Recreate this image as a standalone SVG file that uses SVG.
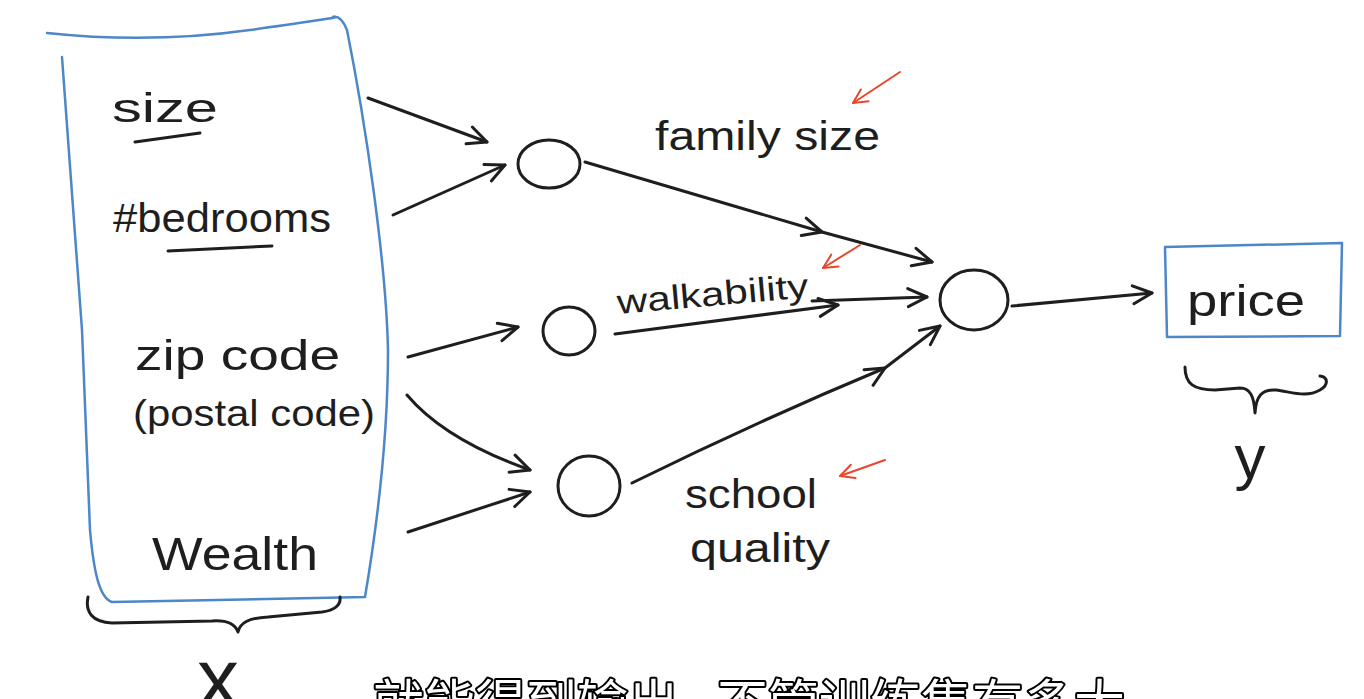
<svg xmlns="http://www.w3.org/2000/svg" width="1364" height="699" viewBox="0 0 1364 699">
<style>
.ink{fill:none;stroke:#1e1e1e;stroke-width:3;stroke-linecap:round;stroke-linejoin:round}
.blue{fill:none;stroke:#4d87c7;stroke-width:2.5;stroke-linecap:round;stroke-linejoin:round}
.red{fill:none;stroke:#e8452e;stroke-width:2;stroke-linecap:round}
.hw{font-family:"Liberation Sans","DejaVu Sans",sans-serif;fill:#1e1e1e}
.sub{font-family:"Noto Sans CJK SC",sans-serif;font-size:51px;fill:#fff;stroke:#000;stroke-width:4;paint-order:stroke;stroke-linejoin:round}
</style>
<defs>
<marker id="ah" markerUnits="userSpaceOnUse" markerWidth="26" markerHeight="26" viewBox="0 0 26 26" refX="23" refY="13" orient="auto">
<path d="M4,4 L23,13 L4,22" fill="none" stroke="#1e1e1e" stroke-width="3" stroke-linecap="round" stroke-linejoin="round"/>
</marker>
<marker id="ahr" markerUnits="userSpaceOnUse" markerWidth="20" markerHeight="20" viewBox="0 0 20 20" refX="18" refY="10" orient="auto">
<path d="M4,3 L18,10 L4,17" fill="none" stroke="#e8452e" stroke-width="2" stroke-linecap="round" stroke-linejoin="round"/>
</marker>
</defs>
<rect width="1364" height="699" fill="#fff"/>

<g id="input-box">
<path class="blue" d="M47,33 Q150,44 250,30 T333,17"/>
<path class="blue" d="M62,57 L82,330 L90,530 C94,575 100,598 112,602 L365,597 C378,520 388,440 388,350 C386,260 365,120 347,30 C343,20 338,16 333,17"/>
<text class="hw" x="112" y="122" font-size="40" textLength="106" lengthAdjust="spacingAndGlyphs">size</text>
<path class="ink" d="M135,142 L200,133"/>
<text class="hw" x="113" y="232" font-size="40" textLength="218" lengthAdjust="spacingAndGlyphs">#bedrooms</text>
<path class="ink" d="M168,251 L272,246"/>
<text class="hw" x="135" y="370" font-size="42" textLength="205" lengthAdjust="spacingAndGlyphs">zip code</text>
<text class="hw" x="133" y="426" font-size="36" textLength="242" lengthAdjust="spacingAndGlyphs">(postal code)</text>
<text class="hw" x="152" y="570" font-size="46" textLength="166" lengthAdjust="spacingAndGlyphs">Wealth</text>
<path class="ink" d="M88,597 C85,612 92,622 112,623 L212,621 C228,620 235,624 238,632 C240,623 248,618 268,617 L322,612 C336,610 341,605 340,597"/>
<text class="hw" x="218" y="707" font-size="84" text-anchor="middle">x</text>
</g>

<g id="hidden-1"><ellipse class="ink" cx="549" cy="164" rx="31" ry="24"/></g>
<g id="hidden-2"><ellipse class="ink" cx="569" cy="331" rx="26" ry="24"/></g>
<g id="hidden-3"><ellipse class="ink" cx="589" cy="486" rx="31" ry="30"/></g>
<g id="output-node"><ellipse class="ink" cx="974" cy="300" rx="34" ry="30"/></g>

<g id="price-box">
<path class="blue" d="M1165,247 L1342,243 L1340,336 L1167,337 Z"/>
<text class="hw" x="1187" y="316" font-size="44" textLength="118" lengthAdjust="spacingAndGlyphs">price</text>
<path class="ink" d="M1185,367 C1185,384 1194,390 1215,390 L1240,388 C1250,388 1254,396 1255,413 C1256,396 1262,389 1276,390 C1292,392 1306,398 1320,390 C1329,385 1328,377 1320,376"/>
<text class="hw" x="1250" y="478" font-size="62" text-anchor="middle">y</text>
</g>

<g id="labels">
<text class="hw" x="655" y="150" font-size="40" textLength="225" lengthAdjust="spacingAndGlyphs">family size</text>
<text class="hw" x="618" y="314" font-size="34" textLength="192" lengthAdjust="spacingAndGlyphs" transform="rotate(-5 618 314)">walkability</text>
<text class="hw" x="685" y="508" font-size="40" textLength="132" lengthAdjust="spacingAndGlyphs">school</text>
<text class="hw" x="690" y="562" font-size="40" textLength="140" lengthAdjust="spacingAndGlyphs">quality</text>
</g>

<g id="connectors">
<path class="ink" d="M368,98 L487,142" marker-end="url(#ah)"/>
<path class="ink" d="M393,215 L505,165" marker-end="url(#ah)"/>
<path class="ink" d="M408,357 L518,327" marker-end="url(#ah)"/>
<path class="ink" d="M407,395 Q445,440 530,470" marker-end="url(#ah)"/>
<path class="ink" d="M408,532 L530,492" marker-end="url(#ah)"/>
<path class="ink" d="M585,162 L822,232 L932,262" marker-mid="url(#ah)" marker-end="url(#ah)"/>
<path class="ink" d="M615,334 L838,305" marker-end="url(#ah)"/>
<path class="ink" d="M812,301 L927,297" marker-end="url(#ah)"/>
<path class="ink" d="M632,483 Q760,420 885,368 L940,326" marker-mid="url(#ah)" marker-end="url(#ah)"/>
<path class="ink" d="M1012,306 L1152,293" marker-end="url(#ah)"/>
<path class="red" d="M900,72 L853,103" marker-end="url(#ahr)"/>
<path class="red" d="M860,245 L823,268" marker-end="url(#ahr)"/>
<path class="red" d="M885,460 L840,476" marker-end="url(#ahr)"/>
</g>

<g id="subtitle">
<text class="sub" x="373" y="722">就能得到输出,</text>
<text class="sub" x="717" y="722">不管训练集有多大</text>
</g>
</svg>
